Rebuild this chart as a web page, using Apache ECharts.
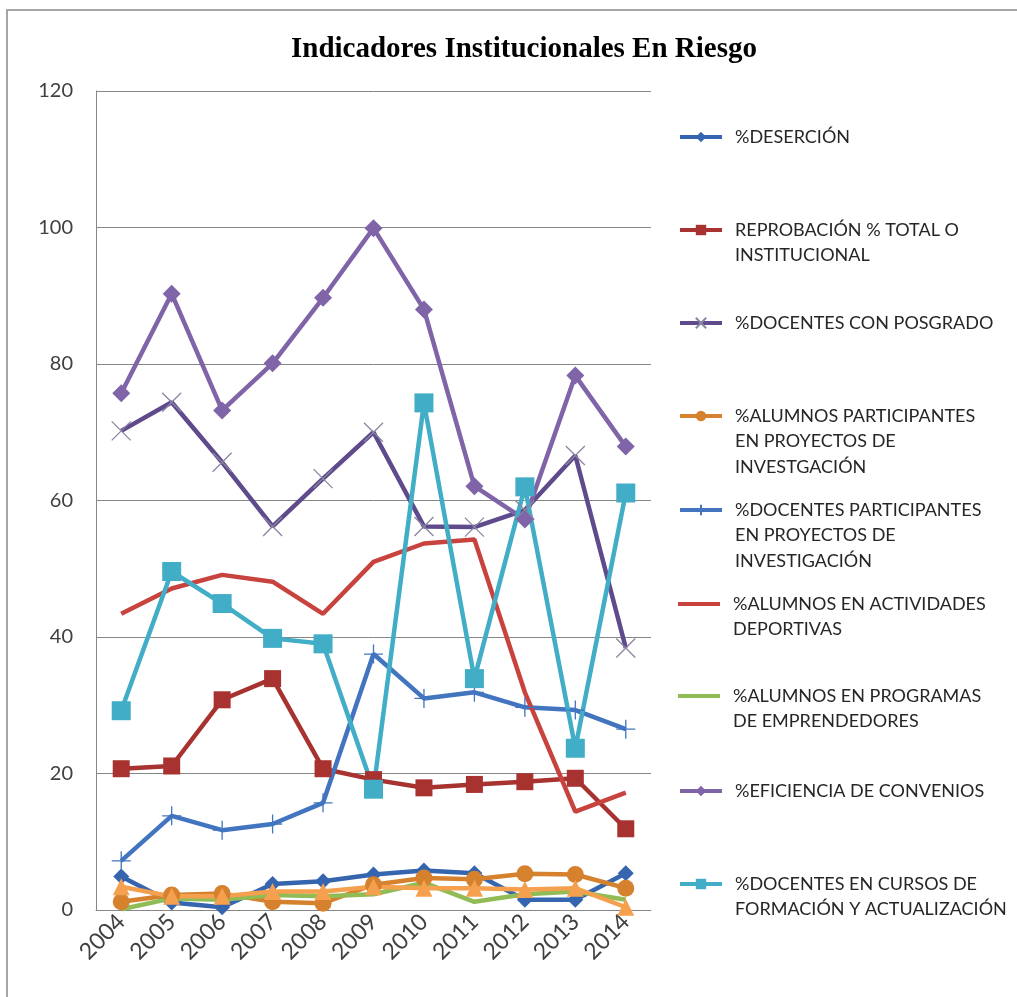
<!DOCTYPE html>
<html>
<head>
<meta charset="utf-8">
<script src="https://cdn.jsdelivr.net/npm/echarts@6/dist/echarts.min.js"></script>
<style>html,body{margin:0;padding:0;background:#fff}#c{width:1017px;height:997px}</style>
</head>
<body>
<div id="c"></div>
<script>
const years = ['2004','2005','2006','2007','2008','2009','2010','2011','2012','2013','2014'];
const yTicks = [0, 20, 40, 60, 80, 100, 120];

const desercion     = [4.9, 1.1, 0.4, 3.8, 4.2, 5.2, 5.8, 5.4, 1.5, 1.5, 5.4];
const reprobacion   = [20.7, 21.1, 30.8, 33.9, 20.7, 19.1, 17.9, 18.4, 18.8, 19.3, 11.9];
const posgrado      = [70.2, 74.4, 65.6, 56.2, 63.2, 70.0, 56.2, 56.1, 58.6, 66.6, 38.4];
const alumnosInv    = [1.2, 2.2, 2.4, 1.2, 1.0, 3.7, 4.7, 4.5, 5.3, 5.2, 3.2];
const docentesInv   = [7.2, 13.8, 11.7, 12.6, 15.7, 37.5, 31.0, 31.9, 29.7, 29.3, 26.5];
const deportivas    = [43.4, 47.1, 49.1, 48.1, 43.4, 51.0, 53.7, 54.3, 31.9, 14.4, 17.2];
const emprendedores = [0.1, 1.7, 1.5, 2.2, 2.0, 2.3, 4.0, 1.2, 2.3, 2.7, 1.5];
const eficiencia    = [75.7, 90.3, 73.2, 80.1, 89.7, 99.9, 88.0, 62.1, 57.2, 78.3, 67.9];
const cursos        = [29.2, 49.6, 44.9, 39.8, 39.0, 17.7, 74.3, 33.9, 62.0, 23.7, 61.1];
const serie10       = [3.4, 2.0, 2.0, 2.7, 2.7, 3.4, 3.2, 3.2, 3.0, 3.2, 0.4];

const names = [
  '%DESERCIÓN',
  'REPROBACIÓN % TOTAL O INSTITUCIONAL',
  '%DOCENTES CON POSGRADO',
  '%ALUMNOS PARTICIPANTES EN PROYECTOS DE INVESTGACIÓN',
  '%DOCENTES PARTICIPANTES EN PROYECTOS DE INVESTIGACIÓN',
  '%ALUMNOS EN ACTIVIDADES DEPORTIVAS',
  '%ALUMNOS EN PROGRAMAS DE EMPRENDEDORES',
  '%EFICIENCIA DE CONVENIOS',
  '%DOCENTES EN CURSOS DE FORMACIÓN Y ACTUALIZACIÓN'
];
const legendLabels = [
  '%DESERCIÓN',
  'REPROBACIÓN % TOTAL O\nINSTITUCIONAL',
  '%DOCENTES CON POSGRADO',
  '%ALUMNOS PARTICIPANTES\nEN PROYECTOS DE\nINVESTGACIÓN',
  '%DOCENTES PARTICIPANTES\nEN PROYECTOS DE\nINVESTIGACIÓN',
  '%ALUMNOS EN ACTIVIDADES\nDEPORTIVAS',
  '%ALUMNOS EN PROGRAMAS\nDE EMPRENDEDORES',
  '%EFICIENCIA DE CONVENIOS',
  '%DOCENTES EN CURSOS DE\nFORMACIÓN Y ACTUALIZACIÓN'
];
const noMarker = [false, false, false, false, false, true, true, false, false];

const chart = echarts.init(document.getElementById('c'));
const LH = 25.5;
const legendIconY = [137, 230, 323, 416, 510, 604, 696, 791, 884];
const legends = names.map((n, i) => {
  const lines = legendLabels[i].split('\n').length;
  const plain = noMarker[i];
  return {
    data: [plain ? { name: n, icon: 'rect' } : n],
    orient: 'vertical',
    left: 678,
    top: legendIconY[i] - (2 * lines - 1) * LH / 2,
    padding: 0,
    itemWidth: 42,
    itemHeight: plain ? 4 : 13,
    selectedMode: false,
    lineStyle: { width: 4 },
    formatter: () => '\n'.repeat(lines - 1) + legendLabels[i],
    textStyle: {
      fontFamily: 'Lato, "Open Sans", sans-serif',
      fontSize: 18,
      lineHeight: LH,
      color: '#262626',
      padding: [0, 0, 0, 8]
    }
  };
});

function mk(name, data, color, symbol, size, extra) {
  return Object.assign({
    name: name,
    type: 'line',
    data: data,
    symbol: symbol,
    symbolSize: size,
    showSymbol: symbol !== 'none',
    lineStyle: { color: color, width: 4.5 },
    itemStyle: { color: color },
    emphasis: { disabled: true },
    animation: false
  }, extra || {});
}

const X_PATH = 'path://M0,0L10,10M0,10L10,0';
const PLUS_PATH = 'path://M5,0L5,10M0,5L10,5';

chart.setOption({
  backgroundColor: '#ffffff',
  animation: false,
  title: {
    text: 'Indicadores Institucionales En Riesgo',
    left: 519,
    textAlign: 'center',
    top: 30,
    textStyle: { fontFamily: '"Liberation Serif", serif', fontWeight: 'bold', fontSize: 29, color: '#000' }
  },
  legend: legends,
  grid: { left: 96, right: 366, top: 91, bottom: 87, containLabel: false },
  xAxis: {
    type: 'category',
    data: years,
    boundaryGap: true,
    axisLine: { lineStyle: { color: '#868686', width: 1 } },
    axisTick: { show: false },
    axisLabel: { rotate: 45, fontSize: 23, color: '#404040', fontFamily: 'Lato, sans-serif', margin: 8 }
  },
  yAxis: {
    type: 'value',
    min: yTicks[0],
    max: yTicks[yTicks.length - 1],
    interval: 20,
    axisLine: { show: true, lineStyle: { color: '#868686', width: 1 } },
    axisTick: { show: false },
    splitLine: { lineStyle: { color: '#868686', width: 1 } },
    axisLabel: { fontSize: 20, color: '#404040', fontFamily: 'Lato, sans-serif', margin: 23 }
  },
  graphic: [
    { type: 'line', shape: { x1: 6, y1: 10, x2: 1017, y2: 10 }, style: { stroke: '#a6a6a6', lineWidth: 2 }, silent: true },
    { type: 'line', shape: { x1: 7, y1: 10, x2: 7, y2: 997 }, style: { stroke: '#a6a6a6', lineWidth: 2 }, silent: true }
  ],
  series: [
    mk(names[0], desercion, '#3565AE', 'diamond', 16),
    mk(names[1], reprobacion, '#A8322F', 'rect', 17),
    mk(names[2], posgrado, '#5F4A8B', X_PATH, 19, {
      itemStyle: { color: 'rgba(0,0,0,0)', borderColor: '#8A86A3', borderWidth: 1.3 },
      lineStyle: { color: '#5F4A8B', width: 4.5 }
    }),
    mk(names[3], alumnosInv, '#D5812E', 'circle', 17),
    mk(names[4], docentesInv, '#4274C0', PLUS_PATH, 19, {
      itemStyle: { color: 'rgba(0,0,0,0)', borderColor: '#4274C0', borderWidth: 1.3 },
      lineStyle: { color: '#4274C0', width: 4.5 }
    }),
    mk(names[5], deportivas, '#C8423E', 'none', 0),
    mk(names[6], emprendedores, '#91BB55', 'none', 0),
    mk(names[7], eficiencia, '#8064A8', 'diamond', 18),
    mk(names[8], cursos, '#41ADC6', 'rect', 19),
    mk('Serie 10', serie10, '#F5A04E', 'triangle', 17)
  ]
});
</script>
</body>
</html>
